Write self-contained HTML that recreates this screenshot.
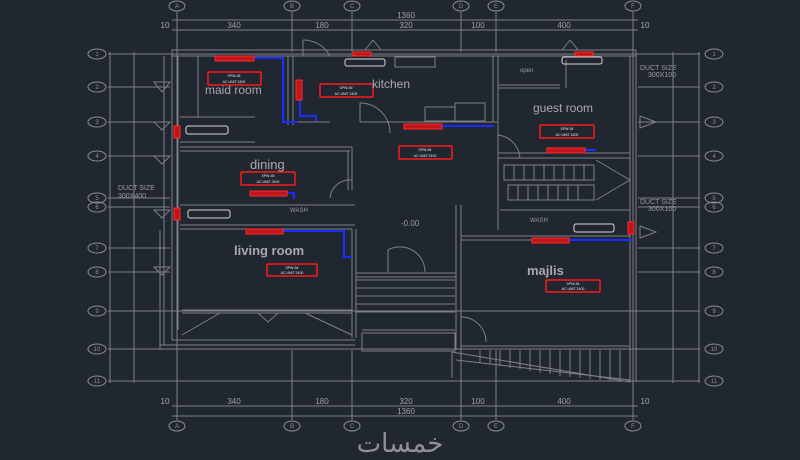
<!DOCTYPE html>
<html><head><meta charset="utf-8"><style>
html,body{margin:0;padding:0;background:#212730;}
svg{display:block;font-family:"Liberation Sans",sans-serif;}
</style></head><body>
<svg width="800" height="460" viewBox="0 0 800 460" xmlns="http://www.w3.org/2000/svg">
<rect width="800" height="460" fill="#212730"/>
<g stroke="#7d8187" stroke-width="1" fill="none">
<line x1="177" y1="12" x2="177" y2="420"/>
<line x1="292" y1="12" x2="292" y2="52"/><line x1="292" y1="350" x2="292" y2="420"/>
<line x1="352" y1="12" x2="352" y2="52"/><line x1="352" y1="350" x2="352" y2="420"/>
<line x1="461" y1="12" x2="461" y2="52"/><line x1="461" y1="350" x2="461" y2="420"/>
<line x1="496" y1="12" x2="496" y2="52"/><line x1="496" y1="350" x2="496" y2="420"/>
<line x1="633" y1="12" x2="633" y2="420"/>
<line x1="172" y1="20" x2="638" y2="20"/><line x1="172" y1="30" x2="638" y2="30"/>
<line x1="172" y1="406" x2="638" y2="406"/><line x1="172" y1="416" x2="638" y2="416"/>
<g>
<line x1="108" y1="54" x2="700" y2="54"/><line x1="108" y1="87" x2="170" y2="87"/><line x1="638" y1="87" x2="700" y2="87"/>
<line x1="108" y1="122" x2="170" y2="122"/><line x1="638" y1="122" x2="700" y2="122"/>
<line x1="108" y1="156" x2="170" y2="156"/><line x1="638" y1="156" x2="700" y2="156"/>
<line x1="108" y1="198" x2="170" y2="198"/><line x1="638" y1="198" x2="700" y2="198"/>
<line x1="108" y1="207" x2="170" y2="207"/><line x1="638" y1="207" x2="700" y2="207"/>
<line x1="108" y1="248" x2="170" y2="248"/><line x1="638" y1="248" x2="700" y2="248"/>
<line x1="108" y1="272" x2="170" y2="272"/><line x1="638" y1="272" x2="700" y2="272"/>
<line x1="108" y1="311" x2="700" y2="311"/>
<line x1="108" y1="349" x2="700" y2="349"/>
<line x1="108" y1="381" x2="700" y2="381"/>
</g>
<line x1="110" y1="52" x2="110" y2="383"/><line x1="134" y1="52" x2="134" y2="383"/>
<line x1="673" y1="52" x2="673" y2="383"/><line x1="699" y1="52" x2="699" y2="383"/>
<rect x="172" y="50" width="464" height="6"/>
<line x1="172" y1="50" x2="172" y2="340"/><line x1="178" y1="56" x2="178" y2="330"/>
<line x1="630" y1="56" x2="630" y2="382"/><line x1="636" y1="50" x2="636" y2="382"/>
<line x1="164" y1="56" x2="164" y2="345"/><line x1="160" y1="230" x2="160" y2="350"/>
<line x1="288" y1="56" x2="288" y2="125"/><line x1="293" y1="56" x2="293" y2="125"/>
<line x1="180" y1="117" x2="255" y2="117"/><line x1="180" y1="142" x2="255" y2="142"/>
<line x1="198" y1="56" x2="198" y2="117"/>
<line x1="293" y1="122" x2="330" y2="122"/><line x1="360" y1="122" x2="497" y2="122"/>
<line x1="360" y1="103" x2="360" y2="122"/>
<line x1="493" y1="56" x2="493" y2="122"/><line x1="498" y1="56" x2="498" y2="230"/>
<path d="M360 103 A30 30 0 0 1 390 133"/>
<path d="M303 56 L303 40 M303 40 A30 30 0 0 1 330 56"/>
<rect x="395" y="57" width="40" height="10"/><rect x="425" y="107" width="30" height="14"/><rect x="455" y="103" width="30" height="18"/>
<line x1="498" y1="85" x2="560" y2="85"/><line x1="498" y1="88" x2="560" y2="88"/>
<line x1="566" y1="60" x2="566" y2="88"/><line x1="498" y1="153" x2="630" y2="153"/><line x1="498" y1="158" x2="630" y2="158"/>
<rect x="504" y="165" width="90" height="15"/><rect x="508" y="185" width="86" height="15"/>
<g>
<line x1="514" y1="165" x2="514" y2="180"/><line x1="524" y1="165" x2="524" y2="180"/><line x1="534" y1="165" x2="534" y2="180"/><line x1="544" y1="165" x2="544" y2="180"/><line x1="554" y1="165" x2="554" y2="180"/><line x1="564" y1="165" x2="564" y2="180"/><line x1="574" y1="165" x2="574" y2="180"/><line x1="584" y1="165" x2="584" y2="180"/>
<line x1="518" y1="185" x2="518" y2="200"/><line x1="528" y1="185" x2="528" y2="200"/><line x1="538" y1="185" x2="538" y2="200"/><line x1="548" y1="185" x2="548" y2="200"/><line x1="558" y1="185" x2="558" y2="200"/><line x1="568" y1="185" x2="568" y2="200"/><line x1="578" y1="185" x2="578" y2="200"/>
</g>
<line x1="596" y1="160" x2="630" y2="180"/><line x1="596" y1="200" x2="630" y2="180"/>
<line x1="500" y1="210" x2="630" y2="210"/>
<path d="M498 135 A25 25 0 0 1 520 158"/>
<line x1="180" y1="147" x2="352" y2="147"/><line x1="180" y1="151" x2="350" y2="151"/>
<line x1="352" y1="147" x2="352" y2="190"/><line x1="348" y1="151" x2="348" y2="190"/>
<line x1="180" y1="205" x2="355" y2="205"/><line x1="180" y1="225" x2="355" y2="225"/>
<line x1="180" y1="229" x2="352" y2="229"/>
<path d="M352 180 A20 20 0 0 0 330 198"/>
<line x1="352" y1="229" x2="352" y2="338"/><line x1="356" y1="229" x2="356" y2="338"/>
<line x1="182" y1="310" x2="352" y2="310"/><line x1="182" y1="313" x2="352" y2="313"/>
<line x1="182" y1="335" x2="220" y2="313"/><line x1="352" y1="335" x2="305" y2="313"/>
<line x1="160" y1="345" x2="355" y2="345"/><line x1="172" y1="340" x2="355" y2="340"/>
<rect x="356" y="273" width="100" height="4"/>
<line x1="356" y1="280" x2="455" y2="280"/><line x1="356" y1="288" x2="455" y2="288"/><line x1="356" y1="296" x2="455" y2="296"/>
<line x1="356" y1="304" x2="455" y2="304"/><line x1="356" y1="312" x2="455" y2="312"/><line x1="362" y1="330" x2="455" y2="330"/>
<rect x="362" y="333" width="93" height="18"/>
<path d="M388 250 L388 272 M388 250 A25 25 0 0 1 425 272"/>
<line x1="456" y1="205" x2="456" y2="350"/><line x1="461" y1="205" x2="461" y2="350"/>
<line x1="461" y1="236" x2="630" y2="236"/><line x1="461" y1="240" x2="630" y2="240"/>
<line x1="461" y1="346" x2="630" y2="346"/><line x1="461" y1="349" x2="630" y2="349"/>
<line x1="452" y1="352" x2="452" y2="378"/><line x1="452" y1="352" x2="630" y2="382"/>
<line x1="456" y1="360" x2="630" y2="380"/>
<line x1="480" y1="350" x2="480" y2="363"/><line x1="490" y1="350" x2="490" y2="364"/><line x1="500" y1="350" x2="500" y2="366"/>
<line x1="510" y1="350" x2="510" y2="368"/><line x1="520" y1="350" x2="520" y2="369"/><line x1="530" y1="350" x2="530" y2="371"/>
<line x1="540" y1="350" x2="540" y2="373"/><line x1="550" y1="350" x2="550" y2="374"/><line x1="560" y1="350" x2="560" y2="376"/>
<line x1="570" y1="350" x2="570" y2="377"/><line x1="580" y1="350" x2="580" y2="378"/><line x1="590" y1="350" x2="590" y2="379"/>
<line x1="600" y1="350" x2="600" y2="380"/><line x1="610" y1="350" x2="610" y2="381"/><line x1="620" y1="350" x2="620" y2="382"/>
<path d="M461 317 A25 25 0 0 1 486 342"/>
<g stroke="#8a8d92">
<ellipse cx="177" cy="6" rx="8" ry="5"/><ellipse cx="292" cy="6" rx="8" ry="5"/><ellipse cx="352" cy="6" rx="8" ry="5"/><ellipse cx="461" cy="6" rx="8" ry="5"/><ellipse cx="496" cy="6" rx="8" ry="5"/><ellipse cx="633" cy="6" rx="8" ry="5"/>
<ellipse cx="177" cy="426" rx="8" ry="5"/><ellipse cx="292" cy="426" rx="8" ry="5"/><ellipse cx="352" cy="426" rx="8" ry="5"/><ellipse cx="461" cy="426" rx="8" ry="5"/><ellipse cx="496" cy="426" rx="8" ry="5"/><ellipse cx="633" cy="426" rx="8" ry="5"/>
<ellipse cx="97" cy="54" rx="9" ry="5"/><ellipse cx="97" cy="87" rx="9" ry="5"/><ellipse cx="97" cy="122" rx="9" ry="5"/><ellipse cx="97" cy="156" rx="9" ry="5"/><ellipse cx="97" cy="198" rx="9" ry="5"/><ellipse cx="97" cy="207" rx="9" ry="5"/><ellipse cx="97" cy="248" rx="9" ry="5"/><ellipse cx="97" cy="272" rx="9" ry="5"/><ellipse cx="97" cy="311" rx="9" ry="5"/><ellipse cx="97" cy="349" rx="9" ry="5"/><ellipse cx="97" cy="381" rx="9" ry="5"/>
<ellipse cx="714" cy="54" rx="9" ry="5"/><ellipse cx="714" cy="87" rx="9" ry="5"/><ellipse cx="714" cy="122" rx="9" ry="5"/><ellipse cx="714" cy="156" rx="9" ry="5"/><ellipse cx="714" cy="198" rx="9" ry="5"/><ellipse cx="714" cy="207" rx="9" ry="5"/><ellipse cx="714" cy="248" rx="9" ry="5"/><ellipse cx="714" cy="272" rx="9" ry="5"/><ellipse cx="714" cy="311" rx="9" ry="5"/><ellipse cx="714" cy="349" rx="9" ry="5"/><ellipse cx="714" cy="381" rx="9" ry="5"/>
</g>
<path d="M154 82 L170 82 L162 92Z M154 122 L170 122 L162 130Z M154 156 L170 156 L162 164Z M154 210 L170 210 L162 218Z M154 267 L170 267 L162 275Z"/>
<path d="M640 116 L656 122 L640 128Z M640 226 L656 232 L640 238Z"/>
<path d="M365 50 L373 40 L381 50Z M562 50 L570 40 L578 50Z M258 313 L268 322 L278 313Z"/>
</g>
<g stroke="#d8d8d8" fill="none" stroke-width="1">
<rect x="345" y="59" width="40" height="7" rx="2"/><rect x="562" y="57" width="40" height="7" rx="2"/>
<rect x="186" y="126" width="42" height="8" rx="2"/><rect x="188" y="210" width="42" height="8" rx="2"/>
<rect x="574" y="224" width="40" height="8" rx="2"/>
</g>
<g stroke="#1a2cff" stroke-width="2" fill="none">
<polyline points="254,58 283,58 283,122 298,122"/>
<polyline points="300,100 300,116 316,116 316,121"/>
<polyline points="442,126 494,126"/>
<polyline points="585,150 596,150"/>
<polyline points="287,193 294,193 294,199"/>
<polyline points="283,231 344,231 344,257 352,257"/>
<polyline points="569,240 632,240"/>
</g>
<g fill="#c0161a" stroke="#ff2a2a" stroke-width="1">
<rect x="215" y="56" width="39" height="5"/><rect x="296" y="80" width="6" height="20"/>
<rect x="404" y="124" width="38" height="5"/><rect x="547" y="148" width="38" height="5"/>
<rect x="250" y="191" width="37" height="5"/><rect x="246" y="229" width="37" height="5"/>
<rect x="532" y="238" width="37" height="5"/>
<rect x="353" y="52" width="18" height="4"/><rect x="575" y="52" width="18" height="4"/>
<rect x="174" y="126" width="6" height="12"/><rect x="174" y="208" width="6" height="12"/><rect x="628" y="222" width="6" height="12"/>
</g>
<g stroke="#ff1a1a" stroke-width="1.5" fill="#212730">
<rect x="208" y="72" width="53" height="13" rx="1"/><rect x="320" y="84" width="53" height="13" rx="1"/>
<rect x="399" y="146" width="53" height="13" rx="1"/><rect x="540" y="125" width="54" height="13" rx="1"/>
<rect x="241" y="172" width="54" height="13" rx="1"/><rect x="267" y="264" width="50" height="12" rx="1"/>
<rect x="546" y="280" width="54" height="12" rx="1"/>
</g>
<g fill="#e8e8e8" font-size="3.5" text-anchor="middle">
<text x="234" y="77">SPW-45</text><text x="234" y="83">AC UNIT 2400</text>
<text x="346" y="89">SPW-45</text><text x="346" y="95">AC UNIT 2400</text>
<text x="425" y="151">SPW-54</text><text x="425" y="157">AC UNIT 2400</text>
<text x="567" y="130">SPW-54</text><text x="567" y="136">AC UNIT 2400</text>
<text x="268" y="177">SPW-45</text><text x="268" y="183">AC UNIT 2400</text>
<text x="292" y="269">SPW-54</text><text x="292" y="274">AC UNIT 2400</text>
<text x="573" y="285">SPW-54</text><text x="573" y="290">AC UNIT 2400</text>
</g>
<g fill="#a8aaad" font-size="12">
<text x="205" y="94">maid room</text>
<text x="372" y="88">kitchen</text>
<text x="533" y="112">guest room</text>
<text x="250" y="169" font-size="13">dining</text>
<text x="234" y="255" font-size="13" font-weight="bold">living room</text>
<text x="527" y="275" font-size="13" font-weight="bold">majlis</text>
</g>
<g fill="#9a9ca0" font-size="8">
<text x="401" y="226">-0.00</text><text x="520" y="72" font-size="6">open</text>
<text x="290" y="212" font-size="6">WASH</text><text x="530" y="222" font-size="6">WASH</text>
<text x="118" y="190" font-size="7">DUCT SIZE</text><text x="118" y="198" font-size="7">300X400</text>
<text x="640" y="70" font-size="7">DUCT SIZE</text><text x="648" y="77" font-size="7">300X100</text>
<text x="640" y="204" font-size="7">DUCT SIZE</text><text x="648" y="211" font-size="7">300X100</text>
</g>
<g fill="#a0a2a6" font-size="8" text-anchor="middle">
<text x="406" y="18">1360</text><text x="406" y="414">1360</text>
<text x="234" y="28">340</text><text x="322" y="28">180</text><text x="406" y="28">320</text><text x="478" y="28">100</text><text x="564" y="28">400</text>
<text x="234" y="404">340</text><text x="322" y="404">180</text><text x="406" y="404">320</text><text x="478" y="404">100</text><text x="564" y="404">400</text>
<text x="165" y="28">10</text><text x="645" y="28">10</text><text x="165" y="404">10</text><text x="645" y="404">10</text>
</g>
<g fill="#8a8d92" font-size="6" text-anchor="middle">
<text x="177" y="8">A</text><text x="292" y="8">B</text><text x="352" y="8">C</text><text x="461" y="8">D</text><text x="496" y="8">E</text><text x="633" y="8">F</text>
<text x="177" y="428">A</text><text x="292" y="428">B</text><text x="352" y="428">C</text><text x="461" y="428">D</text><text x="496" y="428">E</text><text x="633" y="428">F</text>
<text x="97" y="56">1</text><text x="97" y="89">2</text><text x="97" y="124">3</text><text x="97" y="158">4</text><text x="97" y="200">5</text><text x="97" y="209">6</text><text x="97" y="250">7</text><text x="97" y="274">8</text><text x="97" y="313">9</text><text x="97" y="351">10</text><text x="97" y="383">11</text>
<text x="714" y="56">1</text><text x="714" y="89">2</text><text x="714" y="124">3</text><text x="714" y="158">4</text><text x="714" y="200">5</text><text x="714" y="209">6</text><text x="714" y="250">7</text><text x="714" y="274">8</text><text x="714" y="313">9</text><text x="714" y="351">10</text><text x="714" y="383">11</text>
</g>
<text x="400" y="452" fill="#8f9196" font-size="26" text-anchor="middle" font-family="'Liberation Sans','DejaVu Sans',sans-serif">خمسات</text>
</svg>
</body></html>
